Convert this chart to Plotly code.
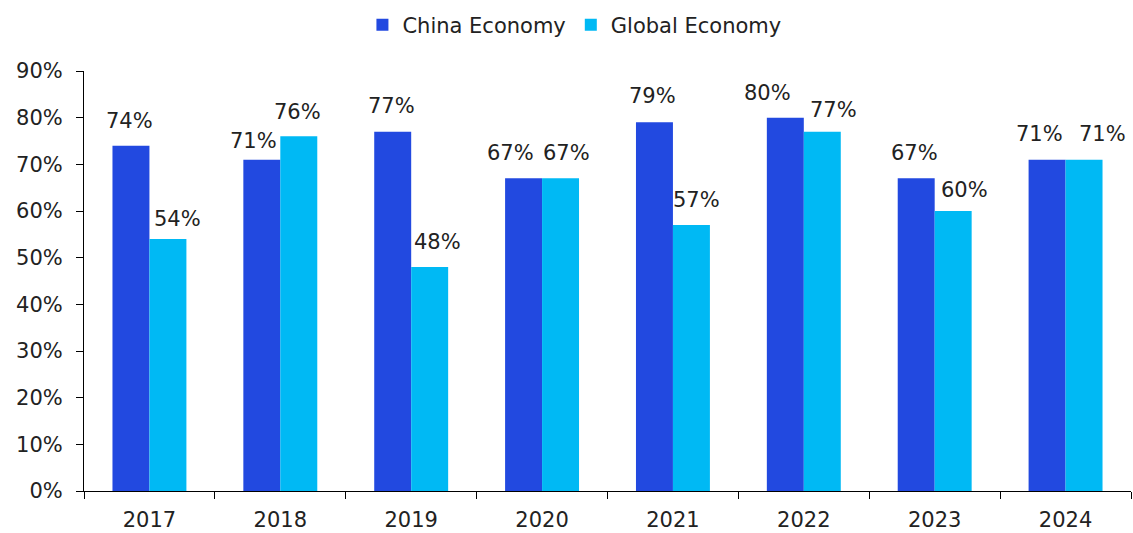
import plotly.graph_objects as go

years = ["2017", "2018", "2019", "2020", "2021", "2022", "2023", "2024"]
china_economy = [74, 71, 77, 67, 79, 80, 67, 71]
global_economy = [54, 76, 48, 67, 57, 77, 60, 71]

CHINA_COLOR = "#2249E0"
GLOBAL_COLOR = "#00B9F4"
TEXT_COLOR = "#222222"
FONT = "DejaVu Sans, Liberation Sans, Arial, sans-serif"
FONT_SIZE = 21

# Pixel nudges for the value labels (horizontal, vertical) so neighbouring
# labels keep clear of each other.
china_label_dx = [-1.5, -8, -1.5, -13, -1.5, -18, -1.5, -7.5]
global_label_dx = [9.5, -1, 8, 5.5, 5.5, 11, 11.5, 18]
china_label_dy = [25, 19, 26, 25, 26, 25, 25, 26]
global_label_dy = [20, 24, 25, 25, 25.5, 22, 21, 26]

fig = go.Figure()
fig.add_trace(go.Bar(name="China Economy", x=years, y=china_economy,
                     marker=dict(color=CHINA_COLOR, line=dict(width=0))))
fig.add_trace(go.Bar(name="Global Economy", x=years, y=global_economy,
                     marker=dict(color=GLOBAL_COLOR, line=dict(width=0))))

half_bar = 18.5
label_font = dict(size=FONT_SIZE, color=TEXT_COLOR, family=FONT)
for i, (c, g) in enumerate(zip(china_economy, global_economy)):
    fig.add_annotation(x=i, y=c, text=f"{c}%", showarrow=False,
                       xshift=-half_bar + china_label_dx[i],
                       yshift=china_label_dy[i], yanchor="middle",
                       font=label_font)
    fig.add_annotation(x=i, y=g, text=f"{g}%", showarrow=False,
                       xshift=half_bar + global_label_dx[i],
                       yshift=global_label_dy[i], yanchor="middle",
                       font=label_font)

fig.update_layout(
    width=1133, height=533,
    margin=dict(l=84, r=2, t=71, b=42),
    paper_bgcolor="white", plot_bgcolor="white",
    barmode="group", bargap=0.435, bargroupgap=0,
    font=dict(family=FONT, size=FONT_SIZE, color=TEXT_COLOR),
    showlegend=True,
    legend=dict(orientation="h", xref="container", yref="container",
                x=0.507, xanchor="center", y=0.953, yanchor="middle",
                font=label_font, itemwidth=30, tracegroupgap=0,
                bgcolor="rgba(0,0,0,0)"),
)
fig.update_xaxes(type="category", range=[-0.5, len(years) - 0.5],
                 showline=True, linecolor="#000000", linewidth=1,
                 ticks="outside", tickson="boundaries", ticklen=7,
                 tickcolor="#000000", showgrid=False, tickangle=0,
                 ticklabelstandoff=10, automargin=False, tickfont=label_font)
fig.update_yaxes(range=[0, 90], dtick=10, ticksuffix="%", showline=True,
                 linecolor="#000000", linewidth=1, ticks="outside", ticklen=7,
                 tickcolor="#000000", showgrid=False, zeroline=False,
                 ticklabelstandoff=9, automargin=False, tickfont=label_font)

fig.write_html("out.html")
